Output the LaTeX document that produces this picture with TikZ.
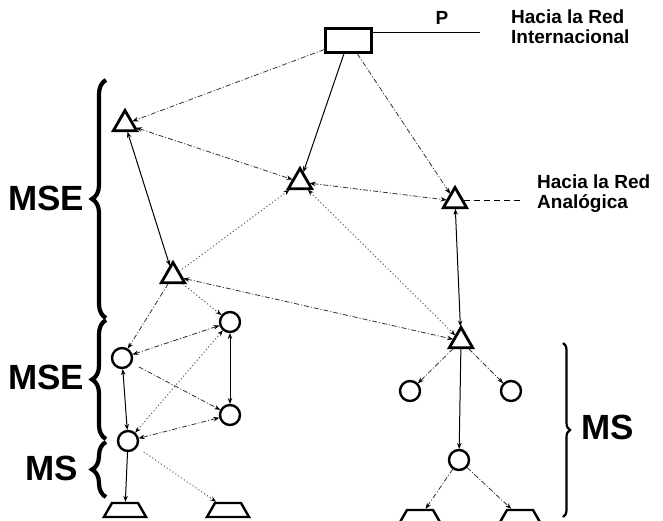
\documentclass[tikz,border=0pt]{standalone}
\usepackage{fontspec}
\setmainfont{Liberation Sans}
\usetikzlibrary{shapes.geometric,arrows.meta,decorations.pathreplacing}
\begin{document}
\begin{tikzpicture}[x=1pt,y=-1pt,
  tri/.style={regular polygon, regular polygon sides=3, draw, line width=2.8pt,
    minimum size=27pt, inner sep=0pt, outer sep=1pt},
  ring/.style={circle, draw, line width=2.4pt, minimum size=20pt, inner sep=0pt, outer sep=1pt},
  term/.style={trapezium, draw, line width=2.4pt, trapezium angle=60,
    inner xsep=13pt, inner ysep=7pt, minimum width=0pt, minimum height=0pt},
  hub/.style={rectangle, draw, line width=2.6pt, minimum width=46pt,
    minimum height=24pt, inner sep=0pt},
  sl/.style={draw=black, line width=1pt},
  dd/.style={draw=black!80, line width=0.8pt, dash pattern=on 5pt off 2pt on 1pt off 2pt},
  dots/.style={draw=black!65, line width=0.9pt, dash pattern=on 1.2pt off 2.3pt},
  fwd/.style={-{Stealth[length=6pt,width=4.5pt,color=black]}},
  bidir/.style={{Stealth[length=6pt,width=4.5pt,color=black]}-{Stealth[length=6pt,width=4.5pt,color=black]}},
  bigbrace/.style={decorate, decoration={brace, amplitude=14pt}, line width=4.2pt},
  bigtext/.style={font=\bfseries\fontsize{35}{35}\selectfont, inner sep=0pt},
  smalltext/.style={font=\bfseries\fontsize{19}{20}\selectfont, inner sep=0pt, align=left, anchor=north west}
]
\useasboundingbox (0,0) rectangle (663,521);

% exchange at the top
\node[hub] (box) at (348.5,40.5) {};
\coordinate (pend) at (480,33);
\draw[line width=1pt] (box.east |- pend) -- (pend);
\node[inner sep=0pt, font=\bfseries\fontsize{19}{19}\selectfont] (plabel) at (442,18) {P};
\node[smalltext] (intl) at (511,10) {Hacia la Red\\Internacional};

% transit switches
\node[tri] (T1) at (125,124) {};
\node[tri] (T2) at (300,182) {};
\node[tri] (T3) at (455,201) {};
\node[tri] (T4) at (173,276) {};
\node[tri] (T5) at (461,341) {};

\coordinate (analog) at (522,201);
\draw[line width=1pt, dash pattern=on 6pt off 4pt] (T3) -- (analog);
\node[smalltext] (anlg) at (537,175) {Hacia la Red\\Analógica};

% local switches
\node[ring] (C1) at (230,322) {};
\node[ring] (C2) at (122,358) {};
\node[ring] (C3) at (230,415) {};
\node[ring] (C4) at (128,441) {};
\node[ring] (C5) at (410,391) {};
\node[ring] (C6) at (511,391) {};
\node[ring] (C7) at (459,460) {};

% subscriber concentrators
\node[term] (B1) at (125,510) {};
\node[term] (B2) at (228,510) {};
\node[term] (B3) at (420,517) {};
\node[term] (B4) at (520,517) {};

% links
\draw[dd, fwd] (box) -- (T1);
\draw[sl, fwd] (box) -- (T2);
\draw[dd, fwd] (box) -- (T3);
\draw[dd, bidir] (T1) -- (T2);
\draw[dd, bidir] (T2) -- (T3);
\draw[sl, bidir] (T1) -- (T4);
\draw[dots, fwd] (T4) -- (T2);
\draw[dots, bidir] (T2) -- (T5);
\draw[sl, bidir] (T3) -- (T5);
\draw[dd, bidir] (T4) -- (T5);
\draw[dd, fwd] (T4) -- (C2);
\draw[dots, fwd] (T4) -- (C1);
\draw[dd, bidir] (C1) -- (C2);
\draw[sl, bidir] (C1) -- (C3);
\draw[dots, bidir] (C1) -- (C4);
\draw[dd, fwd, shorten <=8pt] (C2) -- (C3);
\draw[dd, bidir] (C3) -- (C4);
\draw[sl, bidir] (C2) -- (C4);
\draw[sl, fwd] (C4) -- (B1);
\draw[dots, fwd, shorten <=8pt] (C4) -- (B2);
\draw[dd, fwd] (T5) -- (C5);
\draw[dd, fwd] (T5) -- (C6);
\draw[sl, fwd] (T5) -- (C7);
\draw[dd, fwd] (C7) -- (B3);
\draw[dd, fwd] (C7) -- (B4);

% level braces and labels
\draw[bigbrace] (106,318) -- (106,80);
\draw[bigbrace] (106,439) -- (106,320);
\draw[bigbrace] (106,497) -- (106,442);
\draw[decorate, decoration={brace, amplitude=7pt}, line width=2.2pt] (563,343) -- (563,517);
\node[bigtext] (lvl1) at (46,198) {MSE};
\node[bigtext] (lvl2) at (46,377) {MSE};
\node[bigtext] (lvl3) at (52,468) {MS};
\node[bigtext] (lvl4) at (608,427) {MS};
\end{tikzpicture}
\end{document}
